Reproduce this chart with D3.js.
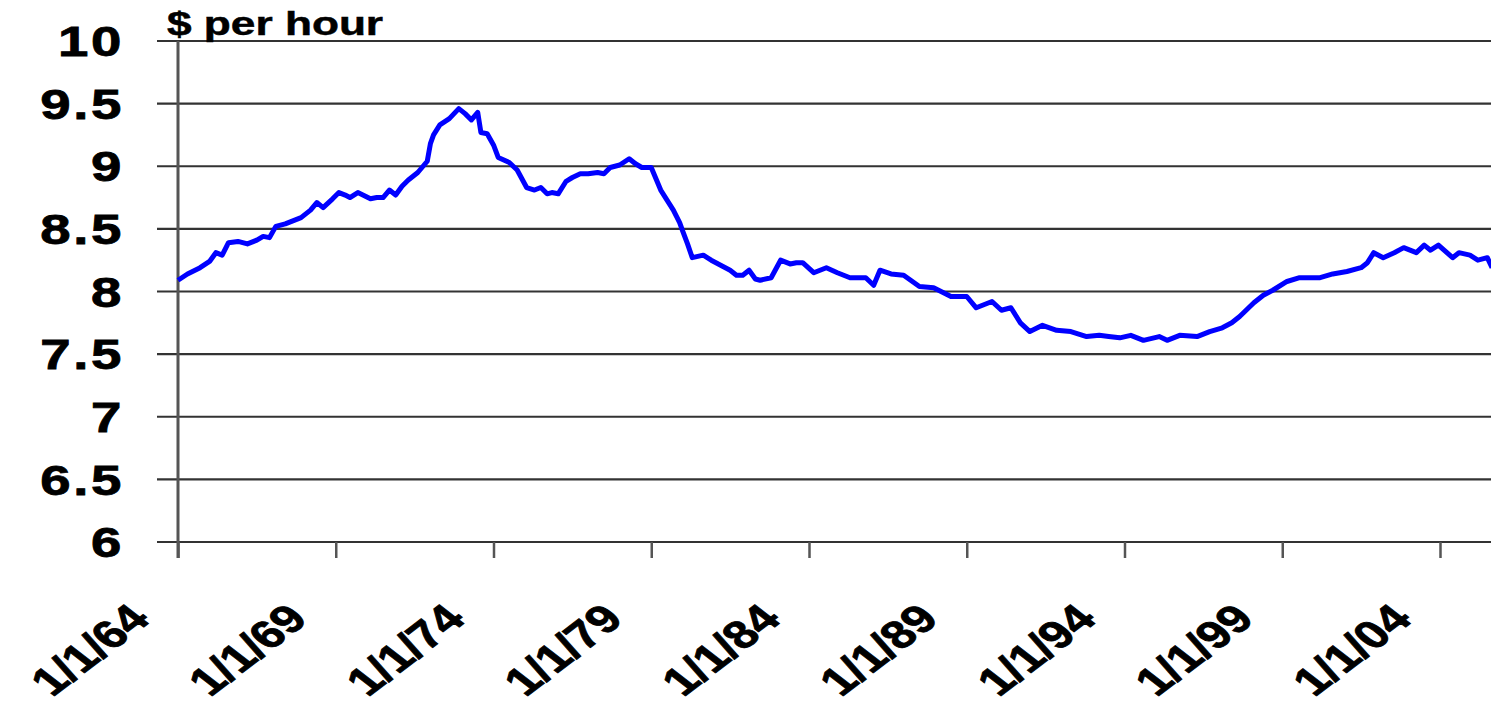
<!DOCTYPE html>
<html>
<head>
<meta charset="utf-8">
<script src="https://cdn.jsdelivr.net/npm/d3@7"></script>
<style>
body{margin:0;background:#fff;}
</style>
</head>
<body>
<script>
// decimal year of each reading
var years = [1964.0,1964.3,1964.7,1965.0,1965.2,1965.4,1965.6,1965.9,1966.2,1966.5,1966.7,1966.9,
  1967.1,1967.4,1967.7,1967.9,1968.2,1968.4,1968.6,1968.9,1969.1,1969.3,1969.45,1969.7,
  1970.1,1970.3,1970.5,1970.7,1970.9,1971.1,1971.3,1971.6,1971.8,1971.9,1972.0,1972.1,
  1972.3,1972.6,1972.9,1973.1,1973.3,1973.5,1973.6,1973.8,1974.0,1974.15,1974.5,1974.75,
  1975.05,1975.3,1975.5,1975.7,1975.85,1976.05,1976.3,1976.5,1976.75,1977.0,1977.3,1977.5,
  1977.7,1978.0,1978.3,1978.5,1978.7,1979.0,1979.3,1979.5,1979.7,1979.9,1980.0,1980.15,
  1980.3,1980.65,1980.9,1981.2,1981.5,1981.7,1981.9,1982.1,1982.3,1982.45,1982.8,1983.1,
  1983.4,1983.6,1983.8,1984.15,1984.55,1984.9,1985.3,1985.8,1986.05,1986.25,1986.6,1987.0,
  1987.5,1987.95,1988.5,1989.0,1989.3,1989.8,1990.1,1990.4,1990.7,1991.0,1991.4,1991.85,
  1992.3,1992.8,1993.2,1993.5,1993.85,1994.2,1994.6,1995.1,1995.35,1995.75,1996.3,1996.7,
  1997.1,1997.4,1997.65,1998.1,1998.4,1998.7,1999.15,1999.55,2000.2,2000.6,2001.05,2001.5,
  2001.7,2001.9,2002.2,2002.55,2002.85,2003.25,2003.5,2003.7,2003.95,2004.4,2004.6,2004.95,
  2005.2,2005.5,2005.65];
// $ per hour
var wages = [8.09,8.14,8.19,8.24,8.31,8.29,8.39,8.40,8.38,8.41,8.44,8.43,
  8.52,8.54,8.57,8.59,8.65,8.71,8.67,8.74,8.79,8.77,8.75,8.79,
  8.74,8.75,8.75,8.81,8.77,8.84,8.89,8.95,9.01,9.04,9.18,9.25,
  9.33,9.38,9.46,9.42,9.37,9.43,9.27,9.26,9.17,9.07,9.03,8.97,
  8.83,8.81,8.83,8.78,8.79,8.78,8.88,8.91,8.94,8.94,8.95,8.94,
  8.99,9.01,9.06,9.02,8.99,8.99,8.81,8.73,8.65,8.55,8.48,8.38,
  8.27,8.29,8.25,8.21,8.17,8.13,8.13,8.17,8.10,8.09,8.11,8.25,
  8.22,8.23,8.23,8.15,8.19,8.15,8.11,8.11,8.05,8.17,8.14,8.13,
  8.04,8.03,7.96,7.96,7.87,7.92,7.85,7.87,7.75,7.68,7.73,7.69,
  7.68,7.64,7.65,7.64,7.63,7.65,7.61,7.64,7.61,7.65,7.64,7.68,
  7.71,7.75,7.80,7.91,7.97,8.01,8.08,8.11,8.11,8.14,8.16,8.19,
  8.23,8.31,8.27,8.31,8.35,8.31,8.37,8.33,8.37,8.27,8.31,8.29,
  8.25,8.27,8.19];
var xTicks = [1964,1969,1974,1979,1984,1989,1994,1999,2004];
var xTickLabels = ["1/1/64","1/1/69","1/1/74","1/1/79","1/1/84","1/1/89","1/1/94","1/1/99","1/1/04"];
var yTicks = [6,6.5,7,7.5,8,8.5,9,9.5,10];
var yTickLabels = ["6","6.5","7","7.5","8","8.5","9","9.5","10"];

var W = 1491, H = 709;
var plotLeft = 178, plotTop = 41, plotBottom = 542;
var stretch = 1.3;//the picture is wider than tall, text gets widened too

var svg = d3.select("body").append("svg")//canvas
    .attr("width", W)
    .attr("height", H);

var x = d3.scaleLinear().domain([1964, 2009]).range([plotLeft, plotLeft + 45 * 31.55]);
var y = d3.scaleLinear().domain([6, 10]).range([plotBottom, plotTop]);

// horizontal gridlines
svg.append("g").selectAll("line").data(yTicks).enter().append("line")
    .attr("x1", 157).attr("x2", W)
    .attr("y1", function(d){ return y(d); }).attr("y2", function(d){ return y(d); })
    .attr("stroke", "#333").attr("stroke-width", 2.2);

// y labels
svg.append("g").selectAll("text").data(yTicks).enter().append("text")
    .attr("transform", function(d){ return "translate(124," + y(d) + ") scale(" + stretch + ",1)"; })
    .attr("dy", "0.36em")
    .attr("text-anchor", "end")
    .style("font-family", "Liberation Sans").style("font-weight", "bold")
    .style("font-size", "42px").style("letter-spacing", "2px")
    .style("stroke", "#000").style("stroke-width", "0.8px")
    .text(function(d, i){ return yTickLabels[i]; });

// x axis ticks
var xAxis = d3.axisBottom(x).tickValues(xTicks).tickSize(16).tickFormat("");
var gx = svg.append("g").attr("transform", "translate(0," + plotBottom + ")").call(xAxis);
gx.select(".domain").remove();
gx.selectAll("line").attr("stroke", "#555").attr("stroke-width", 2.5);

// x labels, rotated
svg.append("g").selectAll("text").data(xTicks).enter().append("text")
    .attr("transform", function(d){ return "translate(" + (x(d) - 26) + ",621) scale(" + stretch + ",1) rotate(-45)"; })
    .attr("text-anchor", "end")
    .style("font-family", "Liberation Sans").style("font-weight", "bold")
    .style("font-size", "39px")
    .style("stroke", "#000").style("stroke-width", "0.8px")
    .text(function(d, i){ return xTickLabels[i]; });

// y axis line
svg.append("line").attr("x1", plotLeft).attr("x2", plotLeft).attr("y1", plotTop).attr("y2", plotBottom + 16)
    .attr("stroke", "#555").attr("stroke-width", 3);

// wage line
var pts = years.map(function(d, i){ return [d, wages[i]]; });
svg.append("path").datum(pts)
    .attr("d", d3.line().x(function(d){ return x(d[0]); }).y(function(d){ return y(d[1]); }))
    .attr("fill", "none").attr("stroke", "#0000ff").attr("stroke-width", 5)
    .attr("stroke-linejoin", "round");

// unit label
svg.append("text").attr("transform", "translate(167,35) scale(" + stretch + ",1)")
    .style("font-family", "Liberation Sans").style("font-weight", "bold")
    .style("font-size", "34px")
    .style("stroke", "#000").style("stroke-width", "0.5px")
    .text("$ per hour");
</script>
</body>
</html>
